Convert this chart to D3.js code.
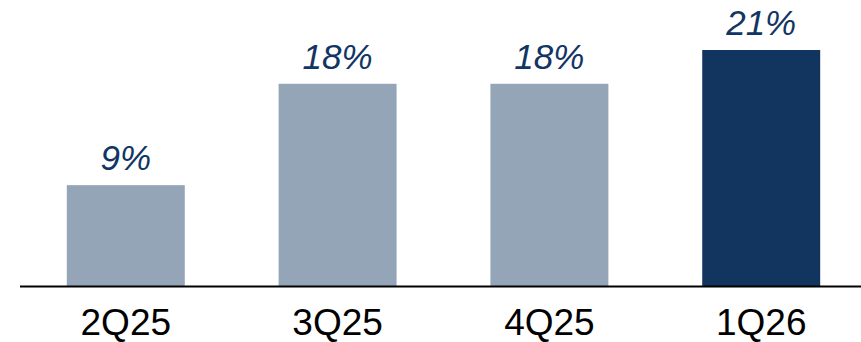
<!DOCTYPE html>
<html><head><meta charset="utf-8">
<script src="https://cdn.jsdelivr.net/npm/d3@7"></script>
<style>body{margin:0;background:#fff}svg{display:block}</style>
</head><body>
<svg id="c" width="861" height="342"></svg>
<script>
const categories = ["2Q25","3Q25","4Q25","1Q26"];
const values = [9,18,18,21];
const valueLabels = ["9%","18%","18%","21%"];
const highlight = [false,false,false,true];

const svg = d3.select("#c");
const x = d3.scaleBand().domain(categories).range([20,867]).paddingInner(0.443).paddingOuter(0.221);
const y = d3.scaleLinear().domain([0,21]).range([286.5,50]);

svg.selectAll("rect.bar").data(categories).join("rect")
  .attr("class","bar")
  .attr("x",d=>x(d)).attr("width",x.bandwidth())
  .attr("y",(d,i)=>y(values[i])).attr("height",(d,i)=>y(0)-y(values[i]))
  .attr("fill",(d,i)=>highlight[i]?"#12355F":"#95A5B8");

svg.selectAll("text.val").data(categories).join("text")
  .attr("class","val")
  .attr("x",d=>x(d)+x.bandwidth()/2)
  .attr("y",(d,i)=>y(values[i])-15)
  .attr("text-anchor","middle")
  .attr("font-family","Liberation Sans, Arial, sans-serif")
  .attr("font-style","italic")
  .attr("font-size",35)
  .attr("fill","#123563")
  .text((d,i)=>valueLabels[i]);

const axis = d3.axisBottom(x).tickSize(0).tickPadding(0);
const g = svg.append("g").attr("transform","translate(0,286.5)").call(axis);
g.select(".domain").remove();
g.selectAll("text").attr("font-family","Liberation Sans, Arial, sans-serif")
  .attr("font-size",37).attr("fill","#000").attr("dy",null).attr("y",48.5);
svg.append("line").attr("x1",20).attr("x2",861).attr("y1",286.5).attr("y2",286.5)
  .attr("stroke","#000").attr("stroke-width",2);
</script>
</body></html>
